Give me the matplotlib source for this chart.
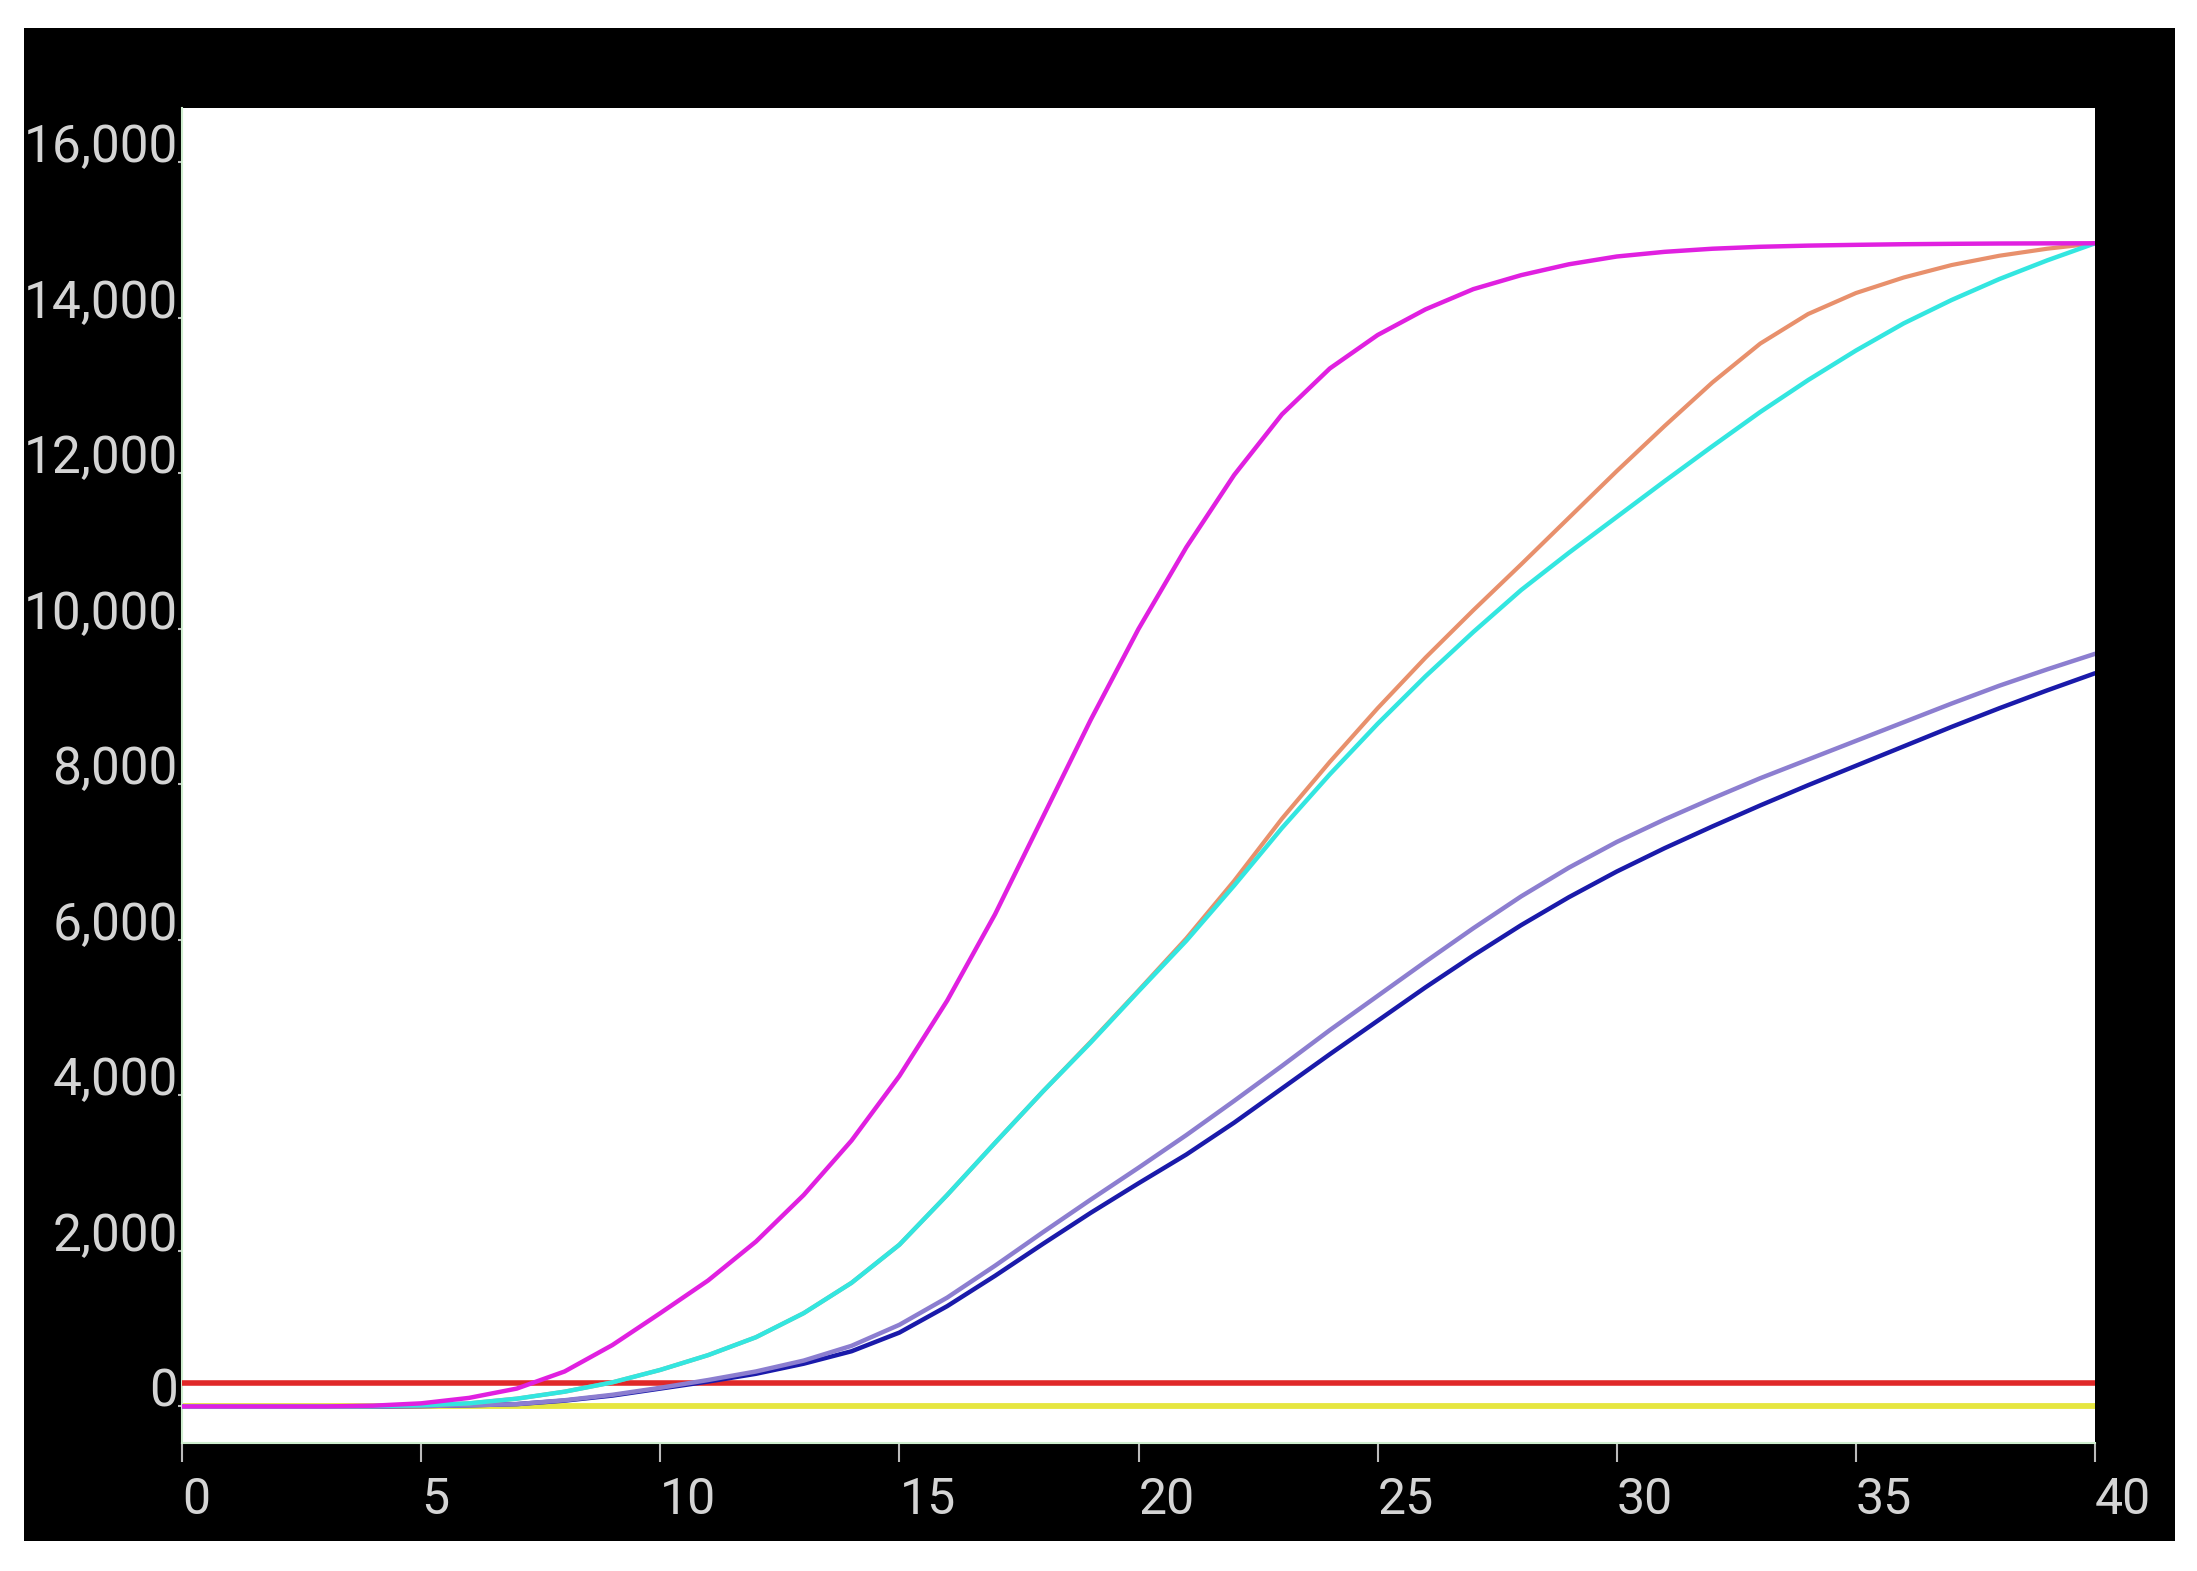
import matplotlib.pyplot as plt
from matplotlib.patches import Rectangle

# amplification curves (cycle -> fluorescence)
cycles = list(range(0, 41))

magenta = [0, 0, 0, 0, 10, 40, 110, 230, 450, 790,
           1200, 1620, 2120, 2720, 3420, 4250, 5220, 6330, 7580, 8830,
           10000, 11050, 11980, 12760, 13350, 13780, 14110, 14370, 14550, 14690,
           14790, 14850, 14890, 14915, 14930, 14940, 14948, 14953, 14957, 14959, 14960]

orange = [0, 0, 0, 0, 5, 15, 40, 100, 190, 310,
          470, 660, 890, 1200, 1590, 2080, 2720, 3390, 4050, 4690,
          5350, 6020, 6760, 7560, 8290, 8980, 9630, 10240, 10830, 11430,
          12030, 12610, 13170, 13670, 14050, 14320, 14520, 14680, 14800, 14890, 14960]

cyan = [0, 0, 0, 0, 5, 15, 40, 100, 190, 310,
        470, 660, 890, 1200, 1590, 2080, 2720, 3390, 4050, 4680,
        5340, 5990, 6700, 7440, 8130, 8780, 9390, 9960, 10500, 10980,
        11440, 11900, 12350, 12790, 13200, 13580, 13930, 14230, 14500, 14740, 14960]

lavender = [0, 0, 0, 0, 0, 5, 15, 30, 80, 150,
            240, 340, 450, 590, 780, 1050, 1400, 1810, 2240, 2660,
            3070, 3490, 3930, 4380, 4840, 5280, 5720, 6150, 6560, 6930,
            7260, 7550, 7820, 8080, 8320, 8560, 8800, 9040, 9270, 9480, 9680]

blue = [0, 0, 0, 0, 0, 5, 15, 30, 75, 140,
        230, 320, 420, 550, 710, 950, 1290, 1680, 2090, 2490,
        2870, 3240, 3650, 4090, 4530, 4960, 5390, 5800, 6190, 6550,
        6880, 7180, 7460, 7730, 7990, 8240, 8490, 8740, 8980, 9210, 9430]

negative = [0] * 41
threshold = 300

yticks = [0, 2000, 4000, 6000, 8000, 10000, 12000, 14000, 16000]
ytick_labels = ['0', '2,000', '4,000', '6,000', '8,000', '10,000', '12,000', '14,000', '16,000']
xticks = [0, 5, 10, 15, 20, 25, 30, 35, 40]

W, H = 2197, 1571
fig = plt.figure(figsize=(W / 100, H / 100), dpi=100, facecolor='white')

# black screen background
fig.patches.append(Rectangle((24 / W, 1 - 1541 / H), (2175 - 24) / W, (1541 - 28) / H,
                             transform=fig.transFigure, facecolor='black',
                             edgecolor='none', zorder=-5))

ax = fig.add_axes([182 / W, 1 - 1443 / H, (2095 - 182) / W, (1443 - 108) / H])
ax.set_zorder(5)
ax.set_facecolor('white')

style = dict(solid_joinstyle='round', solid_capstyle='round')
ax.plot(cycles, negative, color='#e6e640', lw=4.2, zorder=2)
ax.axhline(threshold, color='#e02828', lw=4.0, zorder=3)
ax.plot(cycles, blue, color='#1a1aaa', lw=3.2, zorder=4, **style)
ax.plot(cycles, lavender, color='#8c7ed0', lw=3.2, zorder=5, **style)
ax.plot(cycles, orange, color='#e8906c', lw=3.0, zorder=6, **style)
ax.plot(cycles, cyan, color='#33e6e0', lw=3.2, zorder=7, **style)
ax.plot(cycles, magenta, color='#e020e0', lw=3.2, zorder=8, **style)

ax.set_xlim(0, 40)
ax.set_ylim(-470, 16700)

label_col = '#d4d4d4'
ax.set_xticks(xticks)
ax.set_xticklabels([str(t) for t in xticks], fontsize=36, family='Roboto',
                   color=label_col, ha='left')
ax.set_yticks(yticks)
ax.set_yticklabels(ytick_labels, fontsize=37, family='Roboto',
                   color=label_col, va='baseline')
ax.tick_params(axis='x', length=14, width=1.5, color='#bbbbbb', pad=10)
ax.tick_params(axis='y', length=3, width=1.5, color='#bbbbbb', pad=0)

for s in ['top', 'right']:
    ax.spines[s].set_visible(False)
for s in ['left', 'bottom']:
    ax.spines[s].set_color('#cfeecf')
    ax.spines[s].set_linewidth(1.5)

fig.savefig('out.png', dpi=100, facecolor='white')
